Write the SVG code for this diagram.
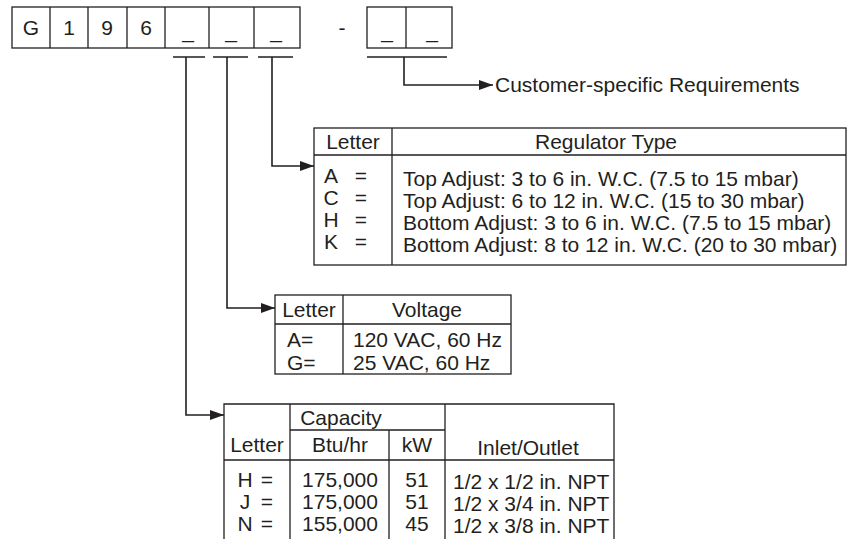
<svg xmlns="http://www.w3.org/2000/svg" width="848" height="539" viewBox="0 0 848 539">
<defs>
<style>
text{font-family:"Liberation Sans",Arial,sans-serif;font-size:21px;fill:#231f20}
.m{text-anchor:middle}
.box{fill:#fff;stroke:#231f20;stroke-width:1.3}
.ln{fill:none;stroke:#231f20;stroke-width:1.3}
.cn{fill:none;stroke:#231f20;stroke-width:1.6}
</style>
<marker id="ah" viewBox="0 0 14 10" refX="14" refY="5" markerWidth="14" markerHeight="10" markerUnits="userSpaceOnUse" orient="auto">
<path d="M0,0 L14,5 L0,10 Z" fill="#231f20"/>
</marker>
</defs>
<rect width="848" height="539" fill="#fff"/>
<g id="code">
<rect class="box" x="12" y="7" width="288" height="41"/>
<rect class="box" x="367" y="7" width="85" height="41"/>
<path class="ln" d="M50,7V48M88,7V48M127,7V48M165,7V48M209,7V48M254,7V48M406,7V48"/>
<text class="m" x="31" y="35">G</text>
<text class="m" x="69" y="35">1</text>
<text class="m" x="107" y="35">9</text>
<text class="m" x="146" y="35">6</text>
<text class="m" x="188" y="38">_</text>
<text class="m" x="231" y="38">_</text>
<text class="m" x="276" y="38">_</text>
<text class="m" x="342" y="35">-</text>
<text class="m" x="387" y="38">_</text>
<text class="m" x="432" y="38">_</text>
<path class="ln" d="M173,57H205M213,57H248M258,57H293M367,57H447"/>
</g>
<g id="connectors">
<path class="cn" d="M404,57V85H493" marker-end="url(#ah)"/>
<path class="cn" d="M272,57V166H314" marker-end="url(#ah)"/>
<path class="cn" d="M227,57V308H275" marker-end="url(#ah)"/>
<path class="cn" d="M186,57V415H224" marker-end="url(#ah)"/>
</g>
<g id="customer">
<text x="495" y="92">Customer-specific Requirements</text>
</g>
<g id="regulator">
<rect class="box" x="314" y="128" width="532" height="137"/>
<path class="ln" d="M314,155H846M392,128V265"/>
<text class="m" x="353" y="149">Letter</text>
<text class="m" x="606" y="149">Regulator Type</text>
<text class="m" x="331" y="183">A</text><text class="m" x="361" y="183">=</text>
<text class="m" x="331" y="205">C</text><text class="m" x="361" y="205">=</text>
<text class="m" x="331" y="227">H</text><text class="m" x="361" y="227">=</text>
<text class="m" x="331" y="249">K</text><text class="m" x="361" y="249">=</text>
<text x="403" y="186">Top Adjust: 3 to 6 in. W.C. (7.5 to 15 mbar)</text>
<text x="403" y="208">Top Adjust: 6 to 12 in. W.C. (15 to 30 mbar)</text>
<text x="403" y="230">Bottom Adjust: 3 to 6 in. W.C. (7.5 to 15 mbar)</text>
<text x="403" y="252">Bottom Adjust: 8 to 12 in. W.C. (20 to 30 mbar)</text>
</g>
<g id="voltage">
<rect class="box" x="275" y="295" width="236" height="79"/>
<path class="ln" d="M275,324H511M343,295V374"/>
<text class="m" x="309" y="317">Letter</text>
<text class="m" x="427" y="317">Voltage</text>
<text x="287" y="347">A=</text>
<text x="287" y="370">G=</text>
<text x="353" y="347">120 VAC, 60 Hz</text>
<text x="353" y="370">25 VAC, 60 Hz</text>
</g>
<g id="capacity">
<path class="ln" d="M224,540V404H614V540M224,460H614M290,404V540M389,430V540M445,404V540M290,430H445"/>
<text class="m" x="341" y="425">Capacity</text>
<text class="m" x="257" y="452">Letter</text>
<text class="m" x="340" y="452">Btu/hr</text>
<text class="m" x="417" y="452">kW</text>
<text class="m" x="528" y="455">Inlet/Outlet</text>
<text class="m" x="245" y="487">H</text><text class="m" x="267" y="487">=</text>
<text class="m" x="245" y="509">J</text><text class="m" x="267" y="509">=</text>
<text class="m" x="245" y="531">N</text><text class="m" x="267" y="531">=</text>
<text class="m" x="340" y="487">175,000</text>
<text class="m" x="340" y="509">175,000</text>
<text class="m" x="340" y="531">155,000</text>
<text class="m" x="417" y="487">51</text>
<text class="m" x="417" y="509">51</text>
<text class="m" x="417" y="531">45</text>
<text x="453" y="489">1/2 x 1/2 in. NPT</text>
<text x="453" y="511">1/2 x 3/4 in. NPT</text>
<text x="453" y="533">1/2 x 3/8 in. NPT</text>
</g>
</svg>
